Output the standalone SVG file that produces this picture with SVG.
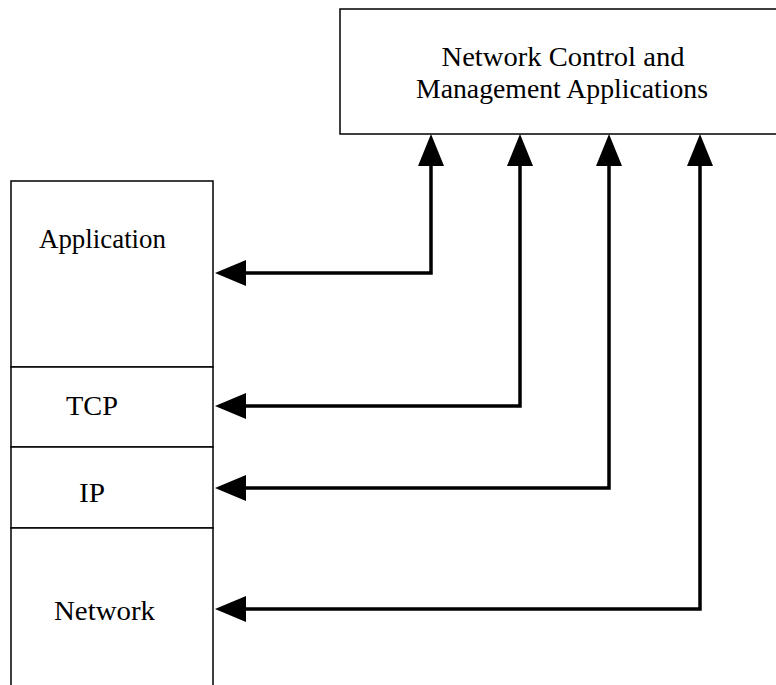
<svg xmlns="http://www.w3.org/2000/svg" width="776" height="685" viewBox="0 0 776 685">
<style>
.box{fill:#fff;stroke:#000;stroke-width:1.5}
.lbl{font-family:"Liberation Serif","Times New Roman",serif;font-size:27px;fill:#000}
.conn{fill:none;stroke:#000;stroke-width:3.5}
</style>
<g id="mgmt">
<rect class="box" x="340" y="9" width="440" height="125"/>
<text class="lbl" x="563" y="66" text-anchor="middle" textLength="243" lengthAdjust="spacingAndGlyphs">Network Control and</text>
<text class="lbl" x="562" y="98" text-anchor="middle" textLength="292" lengthAdjust="spacingAndGlyphs">Management Applications</text>
</g>
<g id="application">
<rect class="box" x="11" y="181" width="202" height="186"/>
<text class="lbl" x="39" y="248" textLength="127" lengthAdjust="spacingAndGlyphs">Application</text>
</g>
<g id="tcp">
<rect class="box" x="11" y="367" width="202" height="80"/>
<text class="lbl" x="66" y="415" textLength="52" lengthAdjust="spacingAndGlyphs">TCP</text>
</g>
<g id="ip">
<rect class="box" x="11" y="447" width="202" height="81"/>
<text class="lbl" x="79" y="502" textLength="26" lengthAdjust="spacingAndGlyphs">IP</text>
</g>
<g id="network">
<rect class="box" x="11" y="528" width="202" height="170"/>
<text class="lbl" x="54" y="620" textLength="101" lengthAdjust="spacingAndGlyphs">Network</text>
</g>
<g id="connectors">
<path class="conn" d="M245,273 L431,273 L431,165" />
<path class="conn" d="M245,406 L520,406 L520,165" />
<path class="conn" d="M245,488 L609,488 L609,165" />
<path class="conn" d="M245,609 L700,609 L700,165" />
<path d="M215,273 L246,260 L246,286 Z"/>
<path d="M215,406 L246,393 L246,419 Z"/>
<path d="M215,488 L246,475 L246,501 Z"/>
<path d="M215,609 L246,596 L246,622 Z"/>
<path d="M431,134 L418,166 L444,166 Z"/>
<path d="M520,134 L507,166 L533,166 Z"/>
<path d="M609,134 L596,166 L622,166 Z"/>
<path d="M700,134 L687,166 L713,166 Z"/>
</g>
</svg>
